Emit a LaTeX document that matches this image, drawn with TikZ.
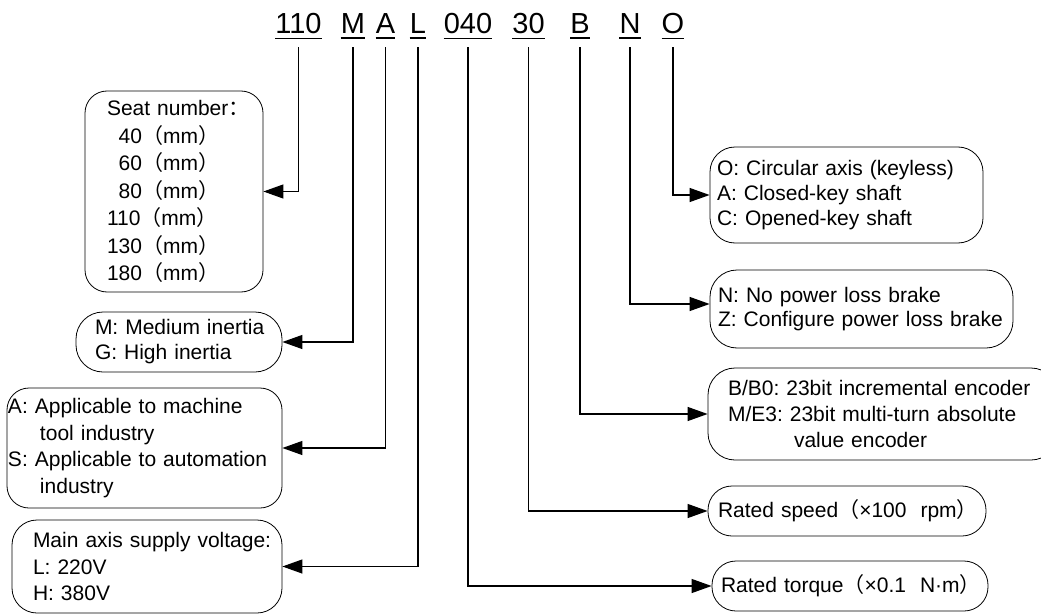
\documentclass[tikz,border=0pt]{standalone}
\usepackage{fontspec}
\setmainfont{Liberation Sans}
\newfontfamily\cjkfont{Noto Sans CJK SC}
\usepackage{tikz}
\usetikzlibrary{arrows.meta,positioning,calc}
\frenchspacing

\begin{document}
\begin{tikzpicture}[x=1pt,y=-1pt,
  code/.style={font=\fontsize{29}{30}\selectfont,inner sep=0pt,anchor=base},
  info/.style={draw,line width=0.8pt,rounded corners=22pt,align=left,inner ysep=0pt,font=\fontsize{21}{26.5}\selectfont,
    execute at begin node={\hyphenpenalty=10000\exhyphenpenalty=10000\hfuzz=50pt}},
  link/.style={line width=1.2pt,-{Triangle[length=20pt,width=14pt]}}]
\useasboundingbox (0,0) rectangle (1041,615);
% model code
\node[code] (frame) at (298.5,34) {110};
\node[code] (inertia) at (353,34) {M};
\node[code] (usage) at (385.5,34) {A};
\node[code] (volt) at (418,34) {L};
\node[code] (torque) at (468,34) {040};
\node[code] (speed) at (528.5,34) {30};
\node[code] (enc) at (580,34) {B};
\node[code] (brake) at (630,34) {N};
\node[code] (shaft) at (673,34) {O};
\foreach \n in {frame,inertia,usage,volt,torque,speed,enc,brake,shaft}
  \draw[line width=1.8pt] ([yshift=-4pt]\n.south west) -- ([yshift=-4pt]\n.south east);
% left boxes
\node[info,minimum width=178pt,minimum height=201pt,text width=134pt,inner xsep=22pt,font=\fontsize{21}{27.5}\selectfont] (framebox) at (174,191.5)
 {Seat~number{\cjkfont ：}\\
  \hphantom{1}40{\cjkfont （}mm{\cjkfont ）}\\
  \hphantom{1}60{\cjkfont （}mm{\cjkfont ）}\\
  \hphantom{1}80{\cjkfont （}mm{\cjkfont ）}\\
  110{\cjkfont （}mm{\cjkfont ）}\\
  130{\cjkfont （}mm{\cjkfont ）}\\
  180{\cjkfont （}mm{\cjkfont ）}};
\node[info,rounded corners=27pt,minimum width=206pt,minimum height=60pt,text width=168pt,inner xsep=19pt,font=\fontsize{21}{25}\selectfont] (inertiabox) at (179,342)
 {M:~Medium~inertia\\ G: High inertia};
\node[info,minimum width=275pt,minimum height=120pt,text width=273pt,inner xsep=1pt] (usagebox) at (144.5,448)
 {A: Applicable to machine\\ \hspace*{32pt}tool industry\\ S:~Applicable~to~automation\\ \hspace*{32pt}industry};
\node[info,rounded corners=25pt,minimum width=270pt,minimum height=93pt,text width=228pt,inner xsep=21pt] (voltbox) at (147,566.5)
 {Main~axis~supply~voltage:\\ L: 220V\\ H: 380V};
% right boxes
\node[info,rounded corners=25pt,minimum width=273pt,minimum height=96pt,text width=259pt,inner xsep=7pt,font=\fontsize{21}{25}\selectfont] (shaftbox) at (846.5,195)
 {O: Circular axis (keyless)\\ A: Closed-key shaft\\ C: Opened-key shaft};
\node[info,rounded corners=27pt,minimum width=303pt,minimum height=78pt,text width=287pt,inner xsep=8pt,font=\fontsize{21}{24.5}\selectfont] (brakebox) at (861.5,309)
 {N: No power loss brake\\ Z:~Configure~power~loss~brake};
\node[info,rounded corners=27pt,minimum width=350pt,minimum height=92pt,text width=310pt,inner xsep=20pt,font=\fontsize{21}{26}\selectfont] (encbox) at (883,414)
 {B/B0:~23bit~incremental~encoder\\ M/E3: 23bit multi-turn absolute\\ \hspace*{66pt}value encoder};
\node[info,rounded corners=24pt,minimum width=278pt,minimum height=50pt,text width=258pt,inner xsep=10pt] (speedbox) at (847,511)
 {Rated~speed{\cjkfont （}×100~~rpm{\cjkfont ）}};
\node[info,rounded corners=24pt,minimum width=276pt,minimum height=50pt,text width=258pt,inner xsep=9pt] (torquebox) at (850,586)
 {Rated~torque{\cjkfont （}×0.1~~N·m{\cjkfont ）}};
% connectors
\draw[link] ([yshift=-13pt]frame.south) |- (framebox.east);
\draw[link] ([yshift=-13pt]inertia.south) |- (inertiabox.east);
\draw[link] ([yshift=-13pt]usage.south) |- (usagebox.east);
\draw[link] ([yshift=-13pt]volt.south) |- (voltbox.east);
\draw[link] ([yshift=-13pt]torque.south) |- (torquebox.west);
\draw[link] ([yshift=-13pt]speed.south) |- (speedbox.west);
\draw[link] ([yshift=-13pt]enc.south) |- (encbox.west);
\draw[link] ([yshift=-13pt]brake.south) |- ([yshift=5pt]brakebox.west);
\draw[link] ([yshift=-13pt]shaft.south) |- (shaftbox.west);
\end{tikzpicture}
\end{document}
